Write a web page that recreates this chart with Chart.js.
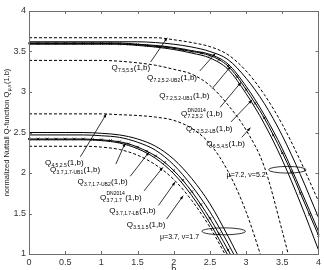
<!DOCTYPE html>
<html>
<head>
<meta charset="utf-8">
<script src="https://cdn.jsdelivr.net/npm/chart.js@4.4.0/dist/chart.umd.min.js"></script>
<style>
html, body { margin: 0; padding: 0; background: #fff; }
#wrap { width: 324px; height: 270px; }
</style>
</head>
<body>
<div id="wrap"><canvas id="chart" width="324" height="270"></canvas></div>
<script>
var bCoarse = [0, 0.25, 0.5, 0.75, 1, 1.25, 1.5, 1.75, 2, 2.25, 2.5, 2.75, 3, 3.25, 3.5, 3.75, 4];
var bFine = [0, 0.125, 0.25, 0.375, 0.5, 0.625, 0.75, 0.875, 1, 1.125, 1.25, 1.375, 1.5, 1.625, 1.75, 1.875,
             2, 2.125, 2.25, 2.375, 2.5, 2.625, 2.75, 2.875, 3, 3.125, 3.25, 3.375, 3.5, 3.625, 3.75, 3.875, 4];
var xTicks = [0, 0.5, 1, 1.5, 2, 2.5, 3, 3.5, 4];
var yTicks = [1, 1.5, 2, 2.5, 3, 3.5, 4];

// mu=7.2, nu=5.2 group
var q75_55  = [3.67, 3.67, 3.67, 3.67, 3.67, 3.67, 3.67, 3.67, 3.645, 3.61, 3.56, 3.46, 3.26, 2.97, 2.60, 2.15, 1.65];
var q72_ub2 = [3.62, 3.62, 3.62, 3.62, 3.62, 3.62, 3.62, 3.61, 3.59, 3.555, 3.50, 3.40, 3.17, 2.86, 2.46, 1.98, 1.45];
var q72_ub1 = [3.605, 3.605, 3.605, 3.605, 3.605, 3.605, 3.59, 3.575, 3.55, 3.51, 3.465, 3.345, 3.07, 2.72, 2.30, 1.80, 1.28];
var q72_dn  = [3.60, 3.60, 3.60, 3.60, 3.60, 3.60, 3.60, 3.60, 3.60, 3.598, 3.595, 3.59, 3.585, 3.575, 3.565, 3.555,
               3.54, 3.52, 3.50, 3.48, 3.45, 3.40, 3.32, 3.19, 3.03, 2.86, 2.68, 2.47, 2.25, 2.01, 1.75, 1.49, 1.23];
var q72_lb  = [3.59, 3.59, 3.59, 3.59, 3.59, 3.59, 3.575, 3.555, 3.525, 3.48, 3.42, 3.28, 2.98, 2.61, 2.16, 1.63, 1.05];
var q65_45  = [3.39, 3.39, 3.39, 3.39, 3.39, 3.38, 3.36, 3.33, 3.28, 3.22, 3.08, 2.84, 2.53, 2.08, 1.28, 0.40, null];

// mu=3.7, nu=1.7 group
var q45_25  = [2.73, 2.73, 2.73, 2.73, 2.73, 2.72, 2.71, 2.69, 2.65, 2.55, 2.36, 2.02, 1.52, 0.85, null, null, null];
var q37_ub2 = [2.50, 2.50, 2.50, 2.50, 2.49, 2.47, 2.42, 2.33, 2.17, 1.93, 1.62, 1.22, 0.78, null, null, null, null];
var q37_ub1 = [2.47, 2.47, 2.47, 2.47, 2.46, 2.44, 2.38, 2.28, 2.10, 1.84, 1.52, 1.13, 0.70, null, null, null, null];
var q37_dn  = [2.42, 2.42, 2.42, 2.42, 2.42, 2.42, 2.42, 2.415, 2.41, 2.40, 2.385, 2.36, 2.32, 2.27, 2.21, 2.13,
               2.03, 1.91, 1.77, 1.61, 1.44, 1.25, 1.05, 0.84, null, null, null, null, null, null, null, null, null];
var q37_lb  = [2.41, 2.41, 2.41, 2.41, 2.40, 2.37, 2.30, 2.18, 1.99, 1.72, 1.38, 0.98, null, null, null, null, null];
var q35_15  = [2.33, 2.33, 2.33, 2.33, 2.32, 2.29, 2.22, 2.10, 1.92, 1.66, 1.33, 0.93, null, null, null, null, null];

var FONT = '"Liberation Sans", Arial, Helvetica, sans-serif';

// curve labels: position of text, arrow start and tip (data units)
var curveLabels = [
    { sub: '7.5,5.5', at: [1.14, 3.27], from: [1.68, 3.37], to: [1.91, 3.67] },
    { sub: '7.2,5.2-UB2', at: [1.63, 3.15], from: [2.36, 3.26], to: [2.58, 3.48] },
    { sub: '7.2,5.2-UB1', at: [1.80, 2.93], from: [2.53, 3.04], to: [2.79, 3.32] },
    { sub: '7.2,5.2', sup: 'DN2014', at: [2.10, 2.70], from: [2.64, 2.81], to: [2.93, 3.12] },
    { sub: '7.2,5.2-LB', at: [2.17, 2.52], from: [2.79, 2.63], to: [3.08, 2.90] },
    { sub: '6.5,4.5', at: [2.45, 2.33], from: [2.94, 2.44], to: [3.06, 2.56] },
    { sub: '4.5,2.5', at: [0.22, 2.10], from: [0.71, 2.20], to: [1.07, 2.73] },
    { sub: '3.7,1.7-UB1', at: [0.29, 2.01], from: [1.20, 2.11], to: [1.33, 2.37] },
    { sub: '3.7,1.7-UB2', at: [0.67, 1.86], from: [1.40, 1.96], to: [1.66, 2.26] },
    { sub: '3.7,1.7', sup: 'DN2014', at: [0.98, 1.67], from: [1.59, 1.78], to: [1.85, 2.07] },
    { sub: '3.7,1.7-LB', at: [1.11, 1.51], from: [1.79, 1.60], to: [2.02, 1.89] },
    { sub: '3.5,1.5', at: [1.35, 1.33], from: [1.90, 1.43], to: [2.13, 1.72] }
];

var groupMarks = [
    { text: '\u03bc=7.2, \u03bd=5.2', at: [3.00, 1.95], ellipse: [3.57, 2.04, 0.26, 0.041] },
    { text: '\u03bc=3.7, \u03bd=1.7', at: [2.08, 1.19], ellipse: [2.69, 1.28, 0.30, 0.043] }
];

function pts(xs, ys) {
    return xs.map(function (x, i) { return { x: x, y: ys[i] }; });
}

function curve(xs, ys, dashed, markers) {
    return {
        data: pts(xs, ys),
        borderColor: '#000',
        backgroundColor: '#000',
        borderWidth: 1,
        borderDash: dashed ? [3, 2] : [],
        pointRadius: markers ? 1.8 : 0,
        pointStyle: 'crossRot',
        pointBorderWidth: 0.8,
        pointBorderColor: '#000',
        cubicInterpolationMode: 'monotone',
        spanGaps: false,
        clip: 1
    };
}

function drawQ(ctx, x, y, sub, sup) {
    ctx.font = '8px ' + FONT;
    ctx.fillText('Q', x, y);
    var w = ctx.measureText('Q').width + 0.3;
    ctx.font = '5px ' + FONT;
    ctx.fillText(sub, x + w, y + 2);
    var sw = ctx.measureText(sub).width;
    if (sup) {
        ctx.fillText(sup, x + w, y - 4.5);
        sw = Math.max(sw, ctx.measureText(sup).width);
    }
    ctx.font = '8px ' + FONT;
    ctx.fillText('(1,b)', x + w + sw + 0.4, y);
}

var annotate = {
    id: 'annotate',
    afterDatasetsDraw: function (chart) {
        var ctx = chart.ctx, xs = chart.scales.x, ys = chart.scales.y;
        ctx.save();
        ctx.fillStyle = '#000';
        ctx.strokeStyle = '#000';
        ctx.lineWidth = 0.8;
        ctx.textBaseline = 'alphabetic';
        ctx.textAlign = 'left';
        curveLabels.forEach(function (l) {
            drawQ(ctx, xs.getPixelForValue(l.at[0]), ys.getPixelForValue(l.at[1]), l.sub, l.sup);
            var x0 = xs.getPixelForValue(l.from[0]), y0 = ys.getPixelForValue(l.from[1]);
            var x1 = xs.getPixelForValue(l.to[0]), y1 = ys.getPixelForValue(l.to[1]);
            ctx.beginPath();
            ctx.moveTo(x0, y0);
            ctx.lineTo(x1, y1);
            ctx.stroke();
            var a = Math.atan2(y1 - y0, x1 - x0);
            ctx.beginPath();
            ctx.moveTo(x1, y1);
            ctx.lineTo(x1 - 4 * Math.cos(a - 0.35), y1 - 4 * Math.sin(a - 0.35));
            ctx.lineTo(x1 - 4 * Math.cos(a + 0.35), y1 - 4 * Math.sin(a + 0.35));
            ctx.closePath();
            ctx.fill();
        });
        groupMarks.forEach(function (g) {
            var e = g.ellipse;
            var cx = xs.getPixelForValue(e[0]), cy = ys.getPixelForValue(e[1]);
            var rx = xs.getPixelForValue(e[0] + e[2]) - cx;
            var ry = cy - ys.getPixelForValue(e[1] + e[3]);
            ctx.beginPath();
            ctx.ellipse(cx, cy, rx, ry, 0, 0, Math.PI * 2);
            ctx.stroke();
            ctx.font = '7px ' + FONT;
            ctx.textAlign = 'center';
            ctx.fillText(g.text, xs.getPixelForValue(g.at[0]), ys.getPixelForValue(g.at[1]));
            ctx.textAlign = 'left';
        });
        ctx.restore();
    },
    afterDraw: function (chart) {
        var ctx = chart.ctx, a = chart.chartArea, xs = chart.scales.x, ys = chart.scales.y;
        ctx.save();
        ctx.strokeStyle = '#6e6e6e';
        ctx.lineWidth = 1;
        ctx.strokeRect(Math.round(a.left) + 0.5, Math.round(a.top) + 0.5,
                       Math.round(a.right - a.left), Math.round(a.bottom - a.top));
        ctx.beginPath();
        xTicks.forEach(function (v) {
            var px = Math.round(xs.getPixelForValue(v)) + 0.5;
            ctx.moveTo(px, a.bottom); ctx.lineTo(px, a.bottom - 3);
            ctx.moveTo(px, a.top); ctx.lineTo(px, a.top + 3);
        });
        yTicks.forEach(function (v) {
            var py = Math.round(ys.getPixelForValue(v)) + 0.5;
            ctx.moveTo(a.left, py); ctx.lineTo(a.left + 3, py);
            ctx.moveTo(a.right, py); ctx.lineTo(a.right - 3, py);
        });
        ctx.stroke();

        // axis titles
        ctx.fillStyle = '#222';
        ctx.font = '9px ' + FONT;
        ctx.textAlign = 'center';
        ctx.textBaseline = 'top';
        ctx.fillText('b', (a.left + a.right) / 2, 265);

        ctx.translate(9, (a.top + a.bottom) / 2);
        ctx.rotate(-Math.PI / 2);
        ctx.textAlign = 'left';
        ctx.textBaseline = 'alphabetic';
        var t1 = 'normalized Nuttall Q-function Q', t2 = '\u03bc,\u03bd', t3 = '(1,b)';
        ctx.font = '7.5px ' + FONT;
        var w1 = ctx.measureText(t1).width, w3 = ctx.measureText(t3).width;
        ctx.font = '5px ' + FONT;
        var w2 = ctx.measureText(t2).width + 0.8;
        var x0 = -(w1 + w2 + w3) / 2;
        ctx.font = '7.5px ' + FONT;
        ctx.fillText(t1, x0, 0);
        ctx.font = '5px ' + FONT;
        ctx.fillText(t2, x0 + w1 + 0.4, 2);
        ctx.font = '7.5px ' + FONT;
        ctx.fillText(t3, x0 + w1 + w2, 0);
        ctx.restore();
    }
};

var tickFont = { family: FONT, size: 9 };
function plainTick(v) { return String(v); }

new Chart(document.getElementById('chart').getContext('2d'), {
    type: 'line',
    data: {
        datasets: [
            curve(bCoarse, q75_55, true, false),
            curve(bCoarse, q72_ub2, false, false),
            curve(bCoarse, q72_ub1, false, false),
            curve(bFine, q72_dn, false, true),
            curve(bCoarse, q72_lb, false, false),
            curve(bCoarse, q65_45, true, false),
            curve(bCoarse, q45_25, true, false),
            curve(bCoarse, q37_ub2, false, false),
            curve(bCoarse, q37_ub1, false, false),
            curve(bFine, q37_dn, false, true),
            curve(bCoarse, q37_lb, false, false),
            curve(bCoarse, q35_15, true, false)
        ]
    },
    options: {
        responsive: false,
        animation: false,
        devicePixelRatio: 1,
        layout: { padding: { top: 11, right: 4, left: 0, bottom: 0 } },
        plugins: { legend: { display: false }, tooltip: { enabled: false } },
        scales: {
            x: {
                type: 'linear',
                min: 0,
                max: 4,
                afterBuildTicks: function (s) { s.ticks = xTicks.map(function (v) { return { value: v }; }); },
                afterFit: function (s) { s.height = 16; },
                grid: { display: false, drawTicks: false },
                border: { display: false },
                ticks: { font: tickFont, color: '#333', padding: 3, maxRotation: 0, autoSkip: false, callback: plainTick }
            },
            y: {
                type: 'linear',
                min: 1,
                max: 4,
                afterBuildTicks: function (s) { s.ticks = yTicks.map(function (v) { return { value: v }; }); },
                afterFit: function (s) { s.width = 29; },
                grid: { display: false, drawTicks: false },
                border: { display: false },
                ticks: { font: tickFont, color: '#333', padding: 3, autoSkip: false, callback: plainTick }
            }
        }
    },
    plugins: [annotate]
});
</script>
</body>
</html>
